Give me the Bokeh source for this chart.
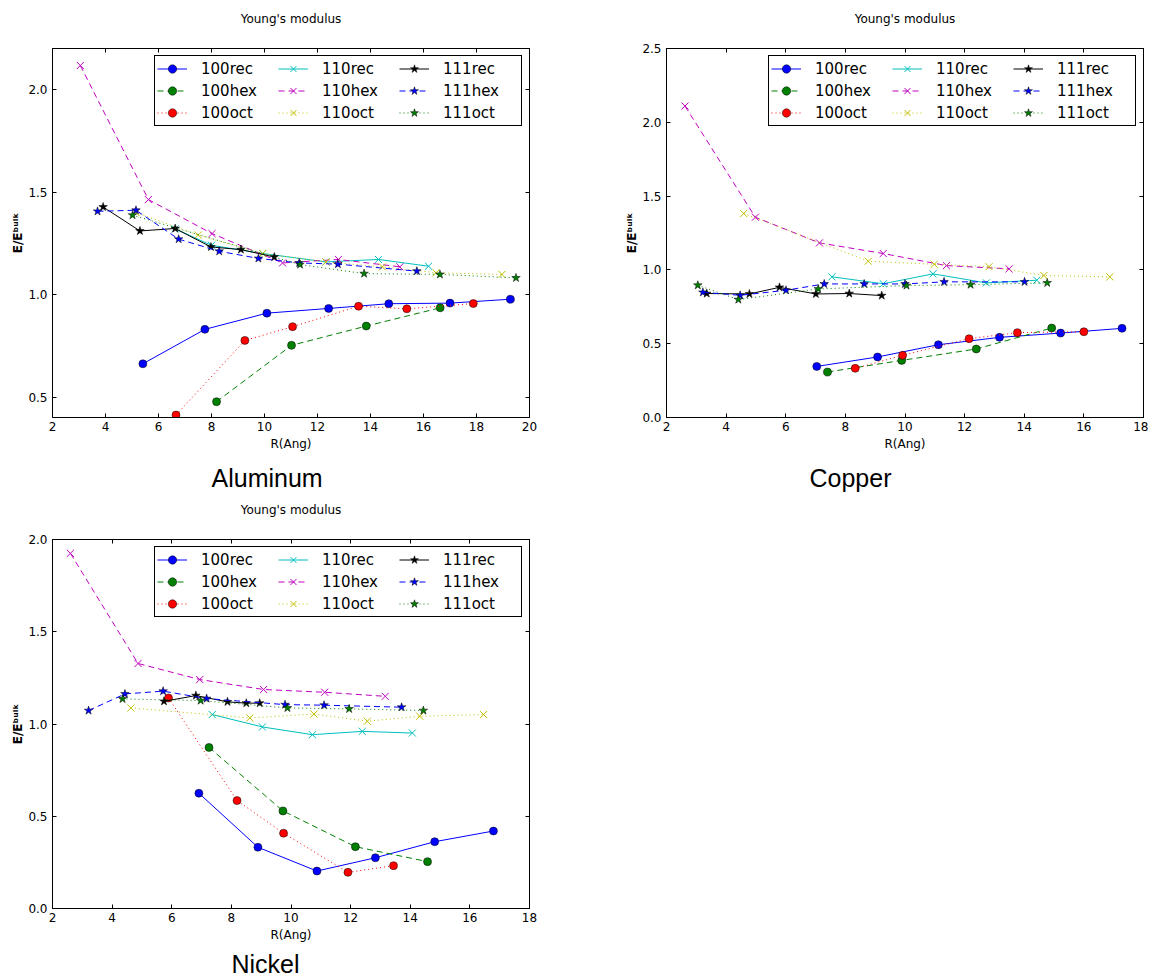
from bokeh.plotting import figure
from bokeh.models import (Range1d, FixedTicker, PrintfTickFormatter, LinearAxis,
                          Title, Legend, LegendItem)
from bokeh.layouts import column, row
from bokeh.embed import file_html
from bokeh.resources import INLINE

# ---------------- data ----------------
series_names = ["100rec", "100hex", "100oct", "110rec", "110hex", "110oct",
                "111rec", "111hex", "111oct"]

# Aluminum
al_100rec_x = [5.41, 7.75, 10.09, 12.42, 14.69, 17.0, 19.28]
al_100rec_y = [0.662, 0.830, 0.909, 0.932, 0.955, 0.958, 0.977]
al_100hex_x = [8.19, 11.02, 13.84, 16.63]
al_100hex_y = [0.477, 0.752, 0.846, 0.935]
al_100oct_x = [6.66, 9.26, 11.06, 13.55, 15.37, 17.88]
al_100oct_y = [0.412, 0.776, 0.843, 0.943, 0.930, 0.956]
al_110rec_x = [6.63, 8.0, 9.93, 12.32, 14.30, 16.19]
al_110rec_y = [1.32, 1.24, 1.20, 1.159, 1.171, 1.138]
al_110hex_x = [3.05, 5.62, 8.02, 10.68, 12.79, 15.11]
al_110hex_y = [2.117, 1.463, 1.297, 1.154, 1.171, 1.135]
al_110oct_x = [5.15, 7.5, 9.93, 12.32, 14.45, 16.47, 18.96]
al_110oct_y = [1.40, 1.29, 1.20, 1.159, 1.135, 1.106, 1.098]
al_111rec_x = [3.91, 5.30, 6.63, 7.98, 9.11, 10.37]
al_111rec_y = [1.427, 1.310, 1.322, 1.232, 1.219, 1.183]
al_111hex_x = [3.70, 5.15, 6.76, 8.29, 9.77, 11.31, 12.77, 15.75]
al_111hex_y = [1.406, 1.411, 1.270, 1.211, 1.176, 1.154, 1.148, 1.114]
al_111oct_x = [5.02, 11.34, 13.76, 16.62, 19.49]
al_111oct_y = [1.387, 1.146, 1.102, 1.098, 1.081]

# Copper
cu_100rec_x = [7.04, 9.08, 11.12, 13.17, 15.22, 17.28]
cu_100rec_y = [0.346, 0.410, 0.493, 0.543, 0.572, 0.604]
cu_100hex_x = [7.40, 9.89, 12.39, 14.92]
cu_100hex_y = [0.308, 0.387, 0.464, 0.606]
cu_100oct_x = [8.33, 9.92, 12.15, 13.77, 16.0]
cu_100oct_y = [0.333, 0.421, 0.534, 0.575, 0.581]
cu_110rec_x = [7.55, 9.27, 10.94, 12.73, 14.42]
cu_110rec_y = [0.953, 0.906, 0.973, 0.912, 0.930]
cu_110hex_x = [2.62, 4.98, 7.13, 9.27, 11.39, 13.49]
cu_110hex_y = [2.11, 1.357, 1.183, 1.111, 1.029, 1.007]
cu_110oct_x = [4.59, 8.77, 10.98, 12.82, 14.66, 16.87]
cu_110oct_y = [1.382, 1.059, 1.038, 1.022, 0.962, 0.953]
cu_111rec_x = [3.35, 4.78, 5.79, 7.01, 8.13, 9.22]
cu_111rec_y = [0.840, 0.837, 0.882, 0.837, 0.840, 0.826]
cu_111hex_x = [3.22, 4.47, 6.01, 7.29, 8.63, 10.0, 11.31, 14.01]
cu_111hex_y = [0.848, 0.828, 0.862, 0.905, 0.905, 0.905, 0.919, 0.919]
cu_111oct_x = [3.05, 4.41, 7.09, 10.05, 12.20, 14.77]
cu_111oct_y = [0.896, 0.799, 0.871, 0.894, 0.900, 0.912]

# Nickel
ni_100rec_x = [6.91, 8.89, 10.87, 12.83, 14.82, 16.79]
ni_100rec_y = [0.625, 0.332, 0.203, 0.275, 0.362, 0.420]
ni_100hex_x = [7.25, 9.73, 12.16, 14.58]
ni_100hex_y = [0.873, 0.529, 0.335, 0.254]
ni_100oct_x = [5.89, 8.19, 9.75, 11.91, 13.44]
ni_100oct_y = [1.141, 0.585, 0.408, 0.196, 0.232]
ni_110rec_x = [7.36, 9.04, 10.72, 12.39, 14.07]
ni_110rec_y = [1.051, 0.984, 0.942, 0.960, 0.951]
ni_110hex_x = [2.60, 4.87, 6.94, 9.08, 11.13, 13.16]
ni_110hex_y = [1.925, 1.328, 1.241, 1.187, 1.172, 1.150]
ni_110oct_x = [4.63, 8.62, 10.77, 12.56, 14.32, 16.46]
ni_110oct_y = [1.087, 1.033, 1.054, 1.015, 1.042, 1.051]
ni_111rec_x = [5.74, 6.81, 7.87, 8.50, 8.95]
ni_111rec_y = [1.123, 1.154, 1.120, 1.113, 1.113]
ni_111hex_x = [3.21, 4.43, 5.71, 7.17, 9.80, 11.11, 13.71]
ni_111hex_y = [1.073, 1.163, 1.178, 1.138, 1.105, 1.102, 1.091]
ni_111oct_x = [4.35, 6.97, 9.88, 11.95, 14.44]
ni_111oct_y = [1.136, 1.127, 1.087, 1.082, 1.073]

# ticks / ranges
al_x_ticks = [2, 4, 6, 8, 10, 12, 14, 16, 18, 20]
al_y_ticks = [0.5, 1.0, 1.5, 2.0]
cu_x_ticks = [2, 4, 6, 8, 10, 12, 14, 16, 18]
cu_y_ticks = [0.0, 0.5, 1.0, 1.5, 2.0, 2.5]
ni_x_ticks = [2, 4, 6, 8, 10, 12, 14, 16, 18]
ni_y_ticks = [0.0, 0.5, 1.0, 1.5, 2.0]
al_x_range = (2, 20)
al_y_range = (0.4, 2.2)
cu_x_range = (2, 18)
cu_y_range = (0.0, 2.5)
ni_x_range = (2, 18)
ni_y_range = (0.0, 2.0)

plot_title = "Young's modulus"
x_label = "R(Ang)"
y_label = "E/E\u1d47\u1d58\u02e1\u1d4f"

# ---------------- styles ----------------
STYLE = {
    "100rec": ("#0000ff", "solid", "circle"),
    "100hex": ("#008000", "dashed", "circle"),
    "100oct": ("#ff0000", "dotted", "circle"),
    "110rec": ("#00bfbf", "solid", "x"),
    "110hex": ("#bf00bf", "dashed", "x"),
    "110oct": ("#bfbf00", "dotted", "x"),
    "111rec": ("#000000", "solid", "star"),
    "111hex": ("#0000ff", "dashed", "star"),
    "111oct": ("#008000", "dotted", "star"),
}
DASH = {"solid": "solid", "dashed": "6 4", "dotted": "1 3"}
FONT = "DejaVu Sans"


def make_fig(data, xr, yr, xt, yt, caption, cap_offset, cap_standoff,
             bl, br, bt, bb):
    p = figure(frame_width=477, frame_height=369,
               x_range=Range1d(*xr), y_range=Range1d(*yr),
               output_backend="svg", toolbar_location=None,
               min_border_left=bl, min_border_right=br,
               min_border_top=bt, min_border_bottom=bb)
    p.xgrid.visible = False
    p.ygrid.visible = False
    p.outline_line_color = "black"
    p.outline_line_alpha = 1
    p.outline_line_width = 1
    p.background_fill_color = "white"
    p.border_fill_color = "white"

    xfmt = PrintfTickFormatter(format="%d")
    yfmt = PrintfTickFormatter(format="%.1f")
    for ax, tk, fm in ((p.xaxis[0], xt, xfmt), (p.yaxis[0], yt, yfmt)):
        ax.ticker = FixedTicker(ticks=tk)
        ax.formatter = fm
        ax.major_tick_in = 4
        ax.major_tick_out = 0
        ax.minor_tick_in = 0
        ax.minor_tick_out = 0
        ax.axis_line_color = "black"
        ax.major_tick_line_color = "black"
        ax.major_label_text_font = FONT
        ax.major_label_text_font_size = "12px"
        ax.major_label_text_color = "black"
        ax.axis_label_text_font = FONT
        ax.axis_label_text_font_size = "12px"
        ax.axis_label_text_color = "black"
    p.xaxis[0].axis_label = x_label
    p.xaxis[0].axis_label_text_font_style = "normal"
    p.xaxis[0].major_label_standoff = 4
    p.xaxis[0].axis_label_standoff = 3
    p.yaxis[0].axis_label = y_label
    p.yaxis[0].axis_label_text_font_style = "bold"
    p.yaxis[0].major_label_standoff = 5
    p.yaxis[0].axis_label_standoff = 0

    # mirror ticks on top (carrying the plot title) and right (no labels)
    top = LinearAxis(ticker=FixedTicker(ticks=xt),
                     major_tick_in=4, major_tick_out=0,
                     minor_tick_in=0, minor_tick_out=0,
                     major_label_text_font_size="1px",
                     major_label_text_color=None,
                     major_label_standoff=0,
                     axis_line_color="black",
                     major_tick_line_color="black",
                     axis_label=plot_title,
                     axis_label_text_font=FONT,
                     axis_label_text_font_size="12px",
                     axis_label_text_font_style="normal",
                     axis_label_text_color="black",
                     axis_label_standoff=23)
    p.add_layout(top, "above")
    right = LinearAxis(ticker=FixedTicker(ticks=yt),
                       major_tick_in=4, major_tick_out=0,
                       minor_tick_in=0, minor_tick_out=0,
                       major_label_text_font_size="1px",
                       major_label_text_color=None,
                       major_label_standoff=0,
                       axis_line_color="black",
                       major_tick_line_color="black")
    p.add_layout(right, "right")

    p.add_layout(Title(text=caption, align="left", offset=cap_offset,
                       text_font="Liberation Sans", text_font_size="25px",
                       text_font_style="normal", text_color="black",
                       standoff=cap_standoff), "below")

    items = []
    for name in series_names:
        xs, ys = data[name]
        color, dash, marker = STYLE[name]
        lr = p.line(xs, ys, line_color=color, line_width=1,
                    line_dash=DASH[dash])
        if marker == "x":
            sr = p.scatter(xs, ys, marker="x", size=10, line_color=color,
                           line_width=1)
        elif marker == "circle":
            sr = p.scatter(xs, ys, marker="circle", size=8, fill_color=color,
                           line_color="black", line_width=0.5)
        else:
            sr = p.scatter(xs, ys, marker="star", size=9, fill_color=color,
                           line_color="black", line_width=0.5)
        items.append(LegendItem(label=name, renderers=[lr, sr]))

    legend = Legend(items=items, location="top_right", orientation="vertical",
                    nrows=3, label_text_font=FONT, label_text_font_size="15px",
                    label_text_color="black", glyph_width=30, glyph_height=21,
                    label_height=21, label_width=76, label_standoff=14,
                    spacing=1, padding=2, margin=7,
                    border_line_color="black", border_line_width=1,
                    border_line_alpha=1, background_fill_alpha=1)
    p.add_layout(legend)
    return p


al_data = {
    "100rec": (al_100rec_x, al_100rec_y), "100hex": (al_100hex_x, al_100hex_y),
    "100oct": (al_100oct_x, al_100oct_y), "110rec": (al_110rec_x, al_110rec_y),
    "110hex": (al_110hex_x, al_110hex_y), "110oct": (al_110oct_x, al_110oct_y),
    "111rec": (al_111rec_x, al_111rec_y), "111hex": (al_111hex_x, al_111hex_y),
    "111oct": (al_111oct_x, al_111oct_y),
}
cu_data = {
    "100rec": (cu_100rec_x, cu_100rec_y), "100hex": (cu_100hex_x, cu_100hex_y),
    "100oct": (cu_100oct_x, cu_100oct_y), "110rec": (cu_110rec_x, cu_110rec_y),
    "110hex": (cu_110hex_x, cu_110hex_y), "110oct": (cu_110oct_x, cu_110oct_y),
    "111rec": (cu_111rec_x, cu_111rec_y), "111hex": (cu_111hex_x, cu_111hex_y),
    "111oct": (cu_111oct_x, cu_111oct_y),
}
ni_data = {
    "100rec": (ni_100rec_x, ni_100rec_y), "100hex": (ni_100hex_x, ni_100hex_y),
    "100oct": (ni_100oct_x, ni_100oct_y), "110rec": (ni_110rec_x, ni_110rec_y),
    "110hex": (ni_110hex_x, ni_110hex_y), "110oct": (ni_110oct_x, ni_110oct_y),
    "111rec": (ni_111rec_x, ni_111rec_y), "111hex": (ni_111hex_x, ni_111hex_y),
    "111oct": (ni_111oct_x, ni_111oct_y),
}

p1 = make_fig(al_data, al_x_range, al_y_range, al_x_ticks, al_y_ticks,
              "Aluminum", 159, 16, 52, 45, 48, 80)
p2 = make_fig(cu_data, cu_x_range, cu_y_range, cu_x_ticks, cu_y_ticks,
              "Copper", 143, 16, 92, 5, 48, 80)
p3 = make_fig(ni_data, ni_x_range, ni_y_range, ni_x_ticks, ni_y_ticks,
              "Nickel", 179, 7, 52, 45, 40, 71)

layout = column(row(p1, p2), p3)
open("out.html", "w").write(file_html(layout, INLINE))
